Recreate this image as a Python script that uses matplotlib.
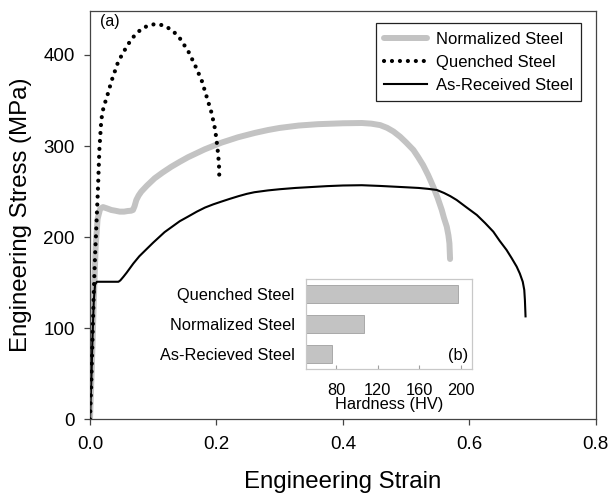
import matplotlib
matplotlib.use("Agg")
import matplotlib.pyplot as plt

plt.rcParams['font.family'] = ['Liberation Sans', 'DejaVu Sans']

# ---- main curves (engineering strain, engineering stress in MPa) ----
norm_strain = [0, 0.003, 0.006, 0.009, 0.012, 0.016, 0.0206, 0.027, 0.0337, 0.040, 0.047,
               0.054, 0.060, 0.065, 0.068, 0.0705, 0.0733, 0.077, 0.0812, 0.090, 0.1023, 0.115,
               0.1287, 0.142, 0.155, 0.1815, 0.2078, 0.234, 0.2606, 0.2816, 0.300, 0.330,
               0.360, 0.400, 0.430, 0.445, 0.459, 0.470, 0.480, 0.4905, 0.500, 0.5116,
               0.519, 0.527, 0.535, 0.543, 0.550, 0.5565, 0.560, 0.5644, 0.567, 0.5686,
               0.5696]
norm_stress = [0, 60, 130, 190, 220, 231, 233, 231.5, 229.8, 229, 228,
               228, 228.7, 229, 229.8, 234, 240.8, 245.8, 250, 256.5, 264.6, 271,
               277.3, 282.7, 287.7, 296.4, 303.7, 309.6, 314.4, 317.6, 319.9, 322.5,
               324, 325, 325.3, 324.6, 323, 320, 316, 310.3, 304, 295.7,
               288, 279, 268, 255.4, 243, 229.8, 221, 211.5, 202, 193.2,
               176]

quen_strain = [0, 0.002, 0.004, 0.006, 0.008, 0.010, 0.0127, 0.0148, 0.0179, 0.0215,
               0.0264, 0.0343, 0.0448, 0.0554, 0.066, 0.0818, 0.0949, 0.1055, 0.1187,
               0.1318, 0.1424, 0.1555, 0.166, 0.1767, 0.1846, 0.1925, 0.198, 0.2015,
               0.204, 0.2046]
quen_stress = [0, 40, 90, 140, 180, 211, 255, 296, 329, 343,
               353, 372, 393, 406, 418, 429, 433, 434, 432,
               426, 418, 404, 389, 372, 354, 336, 318, 299,
               281, 264]

recv_strain = [0, 0.002, 0.004, 0.006, 0.008, 0.011, 0.030, 0.045, 0.048, 0.053, 0.058,
               0.0685, 0.078, 0.0897, 0.100, 0.118, 0.130, 0.142, 0.155, 0.169, 0.182,
               0.195, 0.2078, 0.221, 0.235, 0.248, 0.260, 0.2816, 0.300, 0.325, 0.350,
               0.375, 0.400, 0.430, 0.459, 0.501, 0.520, 0.535, 0.5486, 0.560, 0.570,
               0.580, 0.595, 0.612, 0.625, 0.638, 0.648, 0.659, 0.667, 0.675, 0.680,
               0.6846, 0.687, 0.688, 0.689]
recv_stress = [0, 40, 90, 130, 148, 151, 151, 151, 152.5, 156.6, 161,
               171, 179, 187, 194, 205.5, 211.5, 217.5, 222.5, 228, 232.5,
               236, 239, 242, 245, 247.5, 249.3, 251.3, 252.6, 254, 255,
               256, 256.7, 257, 256.2, 254.7, 254, 253, 251.8, 248.5, 245,
               240.8, 233, 224.3, 215.5, 206, 196, 185.9, 177, 167.6, 160,
               151, 142, 131, 113]

series_labels = ['Normalized Steel', 'Quenched Steel', 'As-Received Steel']

# ---- inset: hardness ----
hard_categories = ['As-Recieved Steel', 'Normalized Steel', 'Quenched Steel']
hard_values = [76, 107, 197]
hard_ticks = [80, 120, 160, 200]

x_ticks = [0.0, 0.2, 0.4, 0.6, 0.8]
y_ticks = [0, 100, 200, 300, 400]

fig = plt.figure(figsize=(6.09, 4.97), dpi=100)
ax = fig.add_axes([90 / 609, 1 - 419.3 / 497, 505.7 / 609, 408.6 / 497])

spine_c = '#444444'
ax.plot(norm_strain, norm_stress, color='#c3c3c3', lw=4.3, solid_capstyle='round',
        solid_joinstyle='round', label=series_labels[0], zorder=2)
ax.plot(quen_strain, quen_stress, color='black', lw=3.0, linestyle=(0, (0.01, 1.9)),
        dash_capstyle='round', label=series_labels[1], zorder=3)
ax.plot(recv_strain, recv_stress, color='black', lw=1.5, solid_joinstyle='round',
        label=series_labels[2], zorder=2)

ax.set_xlim(0, 0.8)
ax.set_ylim(0, 448.6)
ax.set_xticks(x_ticks)
ax.set_xticklabels([f'{v:.1f}' for v in x_ticks])
ax.set_yticks(y_ticks)
ax.tick_params(axis='both', direction='out', length=4, width=0.9, color=spine_c,
               labelsize=13.5, top=False, right=False)
ax.tick_params(axis='x', pad=8)
ax.tick_params(axis='y', pad=7)
for s in ax.spines.values():
    s.set_color(spine_c)
    s.set_linewidth(0.9)
ax.set_xlabel('Engineering Strain', fontsize=17.3)
ax.set_ylabel('Engineering Stress (MPa)', fontsize=17.3)
ax.xaxis.set_label_coords(0.5, -(481.7 - 419.3) / 408.6)
ax.yaxis.set_label_coords(-(90 - 21) / 505.7, 0.5)
ax.xaxis.label.set_va('center')
ax.yaxis.label.set_va('center')

ax.text(0.02, 0.973, '(a)', transform=ax.transAxes, fontsize=11.5, va='center', ha='left')

leg = ax.legend(loc='upper right', bbox_to_anchor=(0.971, 0.969), fontsize=12,
                frameon=True, fancybox=False, framealpha=1, edgecolor='#222222',
                handlelength=2.6, handletextpad=0.5, labelspacing=0.48, borderpad=0.5,
                borderaxespad=0)
leg.get_frame().set_linewidth(0.9)

# ---- inset ----
ins = fig.add_axes([305.7 / 609, 1 - 369 / 497, 166 / 609, 90 / 497])
ypos = list(range(len(hard_categories)))
ins.barh(ypos, hard_values, height=0.6, color='#c3c3c3', edgecolor='#a0a0a0', linewidth=0.6)
ins.set_xlim(51, 210)
ins.set_ylim(-0.5, 2.5)
ins.set_yticks(ypos)
ins.set_yticklabels(hard_categories)
ins.set_xticks(hard_ticks)
ins.tick_params(axis='y', length=0, labelsize=11.8, pad=8)
ins.tick_params(axis='x', direction='in', length=3, width=0.8, color='#a0a0a0',
                labelsize=11.8, pad=10)
for s in ins.spines.values():
    s.set_color('#c8c8c8')
    s.set_linewidth(0.9)
ins.set_xlabel('Hardness (HV)', fontsize=11.8, labelpad=-1)
ins.text(0.978, 0.148, '(b)', transform=ins.transAxes, fontsize=11.8, ha='right', va='center')

fig.savefig('out.png', dpi=100)
